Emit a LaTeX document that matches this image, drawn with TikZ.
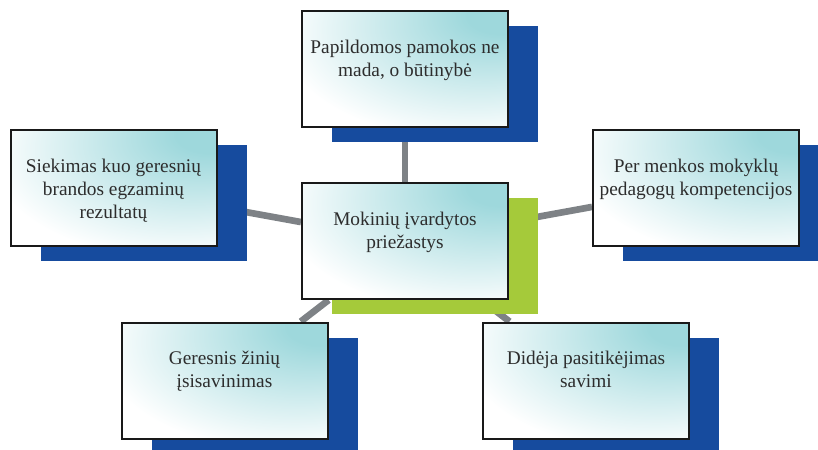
\documentclass[tikz,border=0pt]{standalone}
\usepackage{fontspec}
\setmainfont{Liberation Serif}
\usetikzlibrary{positioning,shadows,backgrounds}
\definecolor{boxblue}{RGB}{22,75,158}
\definecolor{boxgreen}{RGB}{165,202,58}
\definecolor{boxteal}{RGB}{158,216,220}
\definecolor{linkgray}{RGB}{126,130,134}
\definecolor{txtgray}{RGB}{45,45,45}
\pgfdeclareradialshading{tealcorner}{\pgfpoint{25bp}{25bp}}{color(0bp)=(boxteal); color(8bp)=(boxteal); color(45bp)=(white); color(110bp)=(white)}
\tikzset{
  box/.style={rectangle, draw=black!90, line width=1.5pt, shading=tealcorner,
    minimum width=154.5pt, minimum height=87pt, inner sep=0pt},
  blueshadow/.style={general shadow={fill=boxblue, shadow xshift=22.5pt, shadow yshift=-11.25pt}},
  greenshadow/.style={general shadow={fill=boxgreen, shadow xshift=22.5pt, shadow yshift=-11.25pt}},
  boxtext/.style={align=center, inner sep=0pt, text=txtgray, font=\fontsize{14.5}{17.25}\selectfont},
  link/.style={draw=linkgray, line width=5pt}
}

\begin{document}
\begin{tikzpicture}[x=0.75pt,y=-0.75pt]
        \useasboundingbox (0,0) rectangle (818,450);
        % boxes
        \node[box, blueshadow] (papild) at (405,69) {};
        \node[box, blueshadow] (siek) at (113.5,188) {};
        \node[box, blueshadow] (menk) at (696,188) {};
        \node[box, blueshadow] (geres) at (224.5,380.5) {};
        \node[box, blueshadow] (dideja) at (586,380.5) {};
        \node[box, greenshadow] (mok) at (405,241) {};
        % texts
        \node[boxtext, below=22pt of papild.north] (papildtxt) {Papildomos pamokos ne\\mada, o būtinybė};
        \node[boxtext, below=22pt of siek.north] (siektxt) {Siekimas kuo geresnių\\brandos egzaminų\\rezultatų};
        \node[boxtext, below=22pt of menk.north] (menktxt) {Per menkos mokyklų\\pedagogų kompetencijos};
        \node[boxtext, below=22pt of geres.north] (gerestxt) {Geresnis žinių\\įsisavinimas};
        \node[boxtext, below=22pt of dideja.north] (didejatxt) {Didėja pasitikėjimas\\savimi};
        \node[boxtext, below=22pt of mok.north] (moktxt) {Mokinių įvardytos\\priežastys};
        % links
        \begin{scope}[on background layer]
            \draw[link] (mok) -- (papild);
            \draw[link] (mok) -- (siek);
            \draw[link] (mok) -- (menk);
            \draw[link] (mok) -- (geres);
            \draw[link] (mok) -- (dideja);
        \end{scope}
\end{tikzpicture}
\end{document}
